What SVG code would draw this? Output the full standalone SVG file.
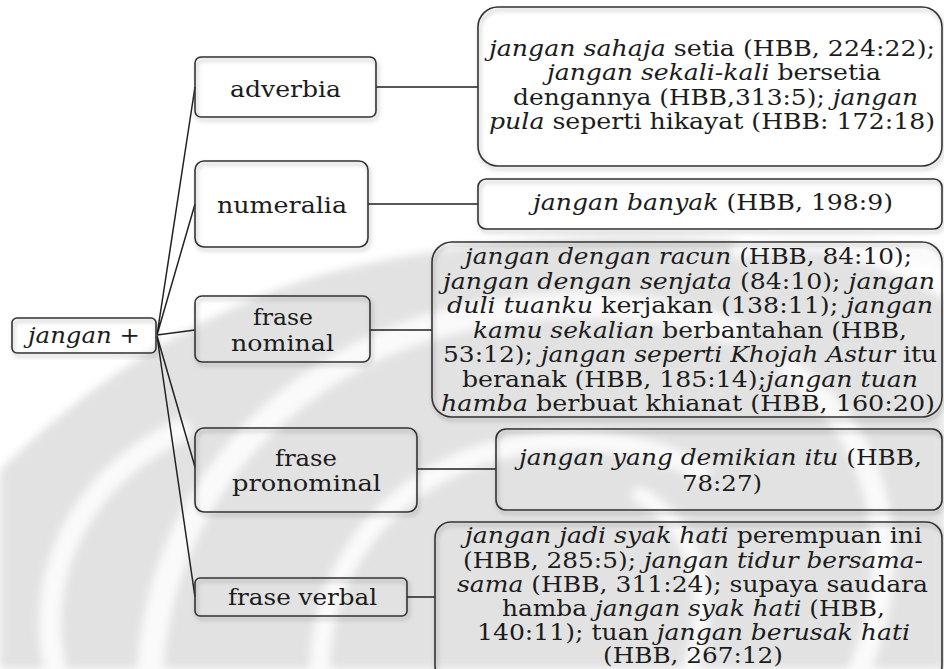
<svg xmlns="http://www.w3.org/2000/svg" width="944" height="669" viewBox="0 0 944 669">
<defs>
<filter id="sh" x="-10%" y="-10%" width="120%" height="130%">
<feDropShadow dx="1.5" dy="3" stdDeviation="2" flood-color="#000" flood-opacity="0.3"/>
</filter>
<filter id="soft"><feGaussianBlur stdDeviation="4"/></filter>
<style>
.box{fill:none;stroke:#333;stroke-width:1.6;filter:url(#sh)}
.ln{fill:none;stroke:#222;stroke-width:1.5}
text{font-family:"DejaVu Serif","Liberation Serif",serif;fill:#1c1c1c}
.lbl{font-size:23px}
.t{font-size:22px}
.i{font-style:italic}
.wm{fill:#e2e2e2}
.ws{fill:none;stroke:#fafafa;stroke-linecap:round}
</style>
</defs>
<rect width="944" height="669" fill="#fff"/>
<g id="watermark" filter="url(#soft)">
<path class="wm" d="M0,470 C60,410 170,320 320,275 C470,235 640,228 780,245 C870,258 920,282 944,300 L944,669 L0,669 Z"/>
<path class="ws" stroke-width="22" d="M55,669 C35,570 80,480 180,430"/>
<path class="ws" stroke-width="26" d="M150,669 C160,530 240,410 380,345 C500,295 630,295 730,330"/>
<path class="ws" stroke-width="20" d="M320,669 C320,575 380,490 480,455 C560,430 640,440 700,470"/>
<path class="ws" stroke-width="22" d="M860,669 C905,560 885,440 790,370"/>
<path class="ws" stroke-width="16" d="M690,669 C715,600 700,530 640,495"/>
<path class="ws" stroke-width="18" d="M944,260 C870,240 800,238 740,250"/>
</g>
<g id="connectors">
<path class="ln" d="M157,335 L195,87 M157,335 L195,204 M157,335 L195,330 M157,336 L195,467 M157,336 L195,597"/>
<path class="ln" d="M376,87 H478 M368,204 H478 M370,330 H432 M417,469 H496 M407,597 H435"/>
</g>
<g id="n-root">
<rect class="box" x="12" y="318" width="144" height="35" rx="5"/>
<text class="lbl" x="28" y="343" textLength="112" lengthAdjust="spacingAndGlyphs"><tspan class="i">jangan</tspan> +</text>
</g>
<g id="n-adverbia">
<rect class="box" x="195" y="57" width="181" height="60" rx="6"/>
<text class="lbl" x="230" y="97" textLength="111" lengthAdjust="spacingAndGlyphs">adverbia</text>
</g>
<g id="n-numeralia">
<rect class="box" x="195" y="161" width="173" height="86" rx="9"/>
<text class="lbl" x="217" y="213" textLength="130" lengthAdjust="spacingAndGlyphs">numeralia</text>
</g>
<g id="n-nominal">
<rect class="box" x="195" y="296" width="175" height="66" rx="7"/>
<text class="lbl" x="253" y="325" textLength="60" lengthAdjust="spacingAndGlyphs">frase</text>
<text class="lbl" x="231" y="351" textLength="103" lengthAdjust="spacingAndGlyphs">nominal</text>
</g>
<g id="n-pronominal">
<rect class="box" x="195" y="428" width="222" height="84" rx="9"/>
<text class="lbl" x="275" y="466" textLength="62" lengthAdjust="spacingAndGlyphs">frase</text>
<text class="lbl" x="232" y="491" textLength="149" lengthAdjust="spacingAndGlyphs">pronominal</text>
</g>
<g id="n-verbal">
<rect class="box" x="195" y="578" width="212" height="38" rx="5"/>
<text class="lbl" x="228" y="605" textLength="149" lengthAdjust="spacingAndGlyphs">frase verbal</text>
</g>
<g id="e-adverbia">
<rect class="box" x="478" y="7" width="464" height="159" rx="20"/>
<text class="t" x="489" y="56" textLength="446" lengthAdjust="spacingAndGlyphs"><tspan class="i">jangan sahaja</tspan> setia (HBB, 224:22);</text>
<text class="t" x="547" y="80" textLength="334" lengthAdjust="spacingAndGlyphs"><tspan class="i">jangan sekali-kali</tspan> bersetia</text>
<text class="t" x="513" y="104.5" textLength="405" lengthAdjust="spacingAndGlyphs">dengannya (HBB,313:5); <tspan class="i">jangan</tspan></text>
<text class="t" x="489" y="129" textLength="446" lengthAdjust="spacingAndGlyphs"><tspan class="i">pula</tspan> seperti hikayat (HBB: 172:18)</text>
</g>
<g id="e-numeralia">
<rect class="box" x="478" y="179" width="464" height="50" rx="8"/>
<text class="t" x="533" y="210" textLength="360" lengthAdjust="spacingAndGlyphs"><tspan class="i">jangan banyak</tspan> (HBB, 198:9)</text>
</g>
<g id="e-nominal">
<rect class="box" x="432" y="242" width="510" height="175" rx="20"/>
<text class="t" x="465" y="264" textLength="447" lengthAdjust="spacingAndGlyphs"><tspan class="i">jangan dengan racun</tspan> (HBB, 84:10);</text>
<text class="t" x="443" y="288.5" textLength="492" lengthAdjust="spacingAndGlyphs"><tspan class="i">jangan dengan senjata</tspan> (84:10); <tspan class="i">jangan</tspan></text>
<text class="t" x="447" y="313" textLength="486" lengthAdjust="spacingAndGlyphs"><tspan class="i">duli tuanku</tspan> kerjakan (138:11); <tspan class="i">jangan</tspan></text>
<text class="t" x="473" y="337.5" textLength="434" lengthAdjust="spacingAndGlyphs"><tspan class="i">kamu sekalian</tspan> berbantahan (HBB,</text>
<text class="t" x="443" y="362" textLength="494" lengthAdjust="spacingAndGlyphs">53:12); <tspan class="i">jangan seperti Khojah Astur</tspan> itu</text>
<text class="t" x="462" y="386.5" textLength="456" lengthAdjust="spacingAndGlyphs">beranak (HBB, 185:14);<tspan class="i">jangan tuan</tspan></text>
<text class="t" x="441" y="411" textLength="494" lengthAdjust="spacingAndGlyphs"><tspan class="i">hamba</tspan> berbuat khianat (HBB, 160:20)</text>
</g>
<g id="e-pronominal">
<rect class="box" x="496" y="429" width="446" height="81" rx="10"/>
<text class="t" x="519" y="465" textLength="403" lengthAdjust="spacingAndGlyphs"><tspan class="i">jangan yang demikian itu</tspan> (HBB,</text>
<text class="t" x="682" y="491" textLength="80" lengthAdjust="spacingAndGlyphs">78:27)</text>
</g>
<g id="e-verbal">
<rect class="box" x="435" y="522" width="507" height="160" rx="16"/>
<text class="t" x="465" y="543" textLength="457" lengthAdjust="spacingAndGlyphs"><tspan class="i">jangan jadi syak hati</tspan> perempuan ini</text>
<text class="t" x="463" y="567.5" textLength="460" lengthAdjust="spacingAndGlyphs">(HBB, 285:5); <tspan class="i">jangan tidur bersama-</tspan></text>
<text class="t" x="457" y="592" textLength="471" lengthAdjust="spacingAndGlyphs"><tspan class="i">sama</tspan> (HBB, 311:24); supaya saudara</text>
<text class="t" x="502" y="616" textLength="383" lengthAdjust="spacingAndGlyphs">hamba <tspan class="i">jangan syak hati</tspan> (HBB,</text>
<text class="t" x="477" y="640" textLength="433" lengthAdjust="spacingAndGlyphs">140:11); tuan <tspan class="i">jangan berusak hati</tspan></text>
<text class="t" x="603" y="663" textLength="180" lengthAdjust="spacingAndGlyphs">(HBB, 267:12)</text>
</g>
</svg>
